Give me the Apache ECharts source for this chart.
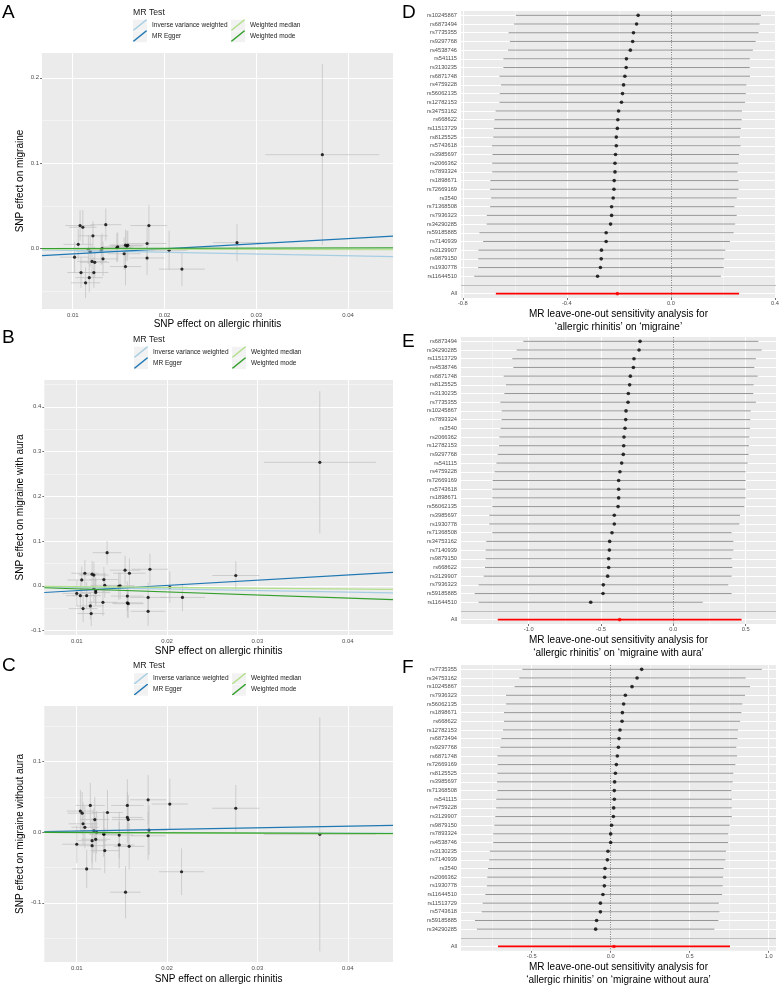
<!DOCTYPE html>
<html><head><meta charset="utf-8">
<script src="https://cdn.jsdelivr.net/npm/echarts@6/dist/echarts.min.js"></script>
<style>html,body{margin:0;padding:0;background:#fff}#c{width:784px;height:988px}</style>
</head><body><div id="c"></div>
<script>
// ---------- DATA ----------
const mrMethods = ['Inverse variance weighted', 'MR Egger', 'Weighted median', 'Weighted mode'];
const mrColors = ['#a6cee3', '#1f78b4', '#b2df8a', '#33a02c'];

// Panel A: allergic rhinitis -> migraine
const aExpBeta = [0.0372,0.0279,0.0219,0.0205,0.0183,0.0181,0.0181,0.01575,0.0159,0.0160,0.0156,0.01575,0.0149,0.0136,0.0133,0.0132,0.0122,0.0117,0.0119,0.0121,0.0124,0.0123,0.0118,0.0114,0.0109,0.0108,0.0111,0.0106,0.0102,0.0148,0.0131];
const aExpSE   = [0.0062,0.0026,0.0025,0.0020,0.0020,0.0021,0.0019,0.0018,0.0017,0.0018,0.0018,0.0017,0.0017,0.0017,0.0016,0.0016,0.0016,0.0016,0.0015,0.0016,0.0016,0.0016,0.0015,0.0016,0.0015,0.0016,0.0015,0.0016,0.0016,0.0016,0.0016];
const aOutBeta = [0.110,0.007,-0.024,-0.002,0.027,0.006,-0.011,0.004,0.003,0.004,-0.006,-0.021,0.002,0.028,-0.012,0.000,0.015,-0.001,-0.003,-0.015,-0.016,-0.028,-0.034,-0.040,-0.028,0.027,0.025,0.005,-0.010,0.001,-0.002];
const aOutSE   = [0.106,0.022,0.020,0.023,0.024,0.020,0.020,0.018,0.018,0.017,0.019,0.022,0.017,0.019,0.020,0.018,0.017,0.017,0.018,0.018,0.018,0.018,0.017,0.018,0.018,0.018,0.020,0.018,0.018,0.017,0.017];
const aSlope     = [-0.21, 0.596, -0.03, 0.02];
const aIntercept = [0, -0.0122, 0, 0];

// Panel B: allergic rhinitis -> migraine with aura
const bExpBeta = [0.0369,0.0276,0.0217,0.0203,0.0181,0.0179,0.0179,0.01535,0.01583,0.0156,0.0156,0.0157,0.01465,0.01336,0.0130,0.0131,0.0129,0.0119,0.0117,0.0119,0.0121,0.0121,0.0111,0.0115,0.0116,0.0107,0.01055,0.0109,0.0104,0.0100,0.0148];
const bExpSE   = [0.0062,0.0026,0.0025,0.0020,0.0020,0.0020,0.0019,0.0017,0.0018,0.0018,0.0017,0.0017,0.0017,0.0016,0.0016,0.0016,0.0016,0.0016,0.0015,0.0016,0.0016,0.0016,0.0016,0.0015,0.0015,0.0016,0.0016,0.0015,0.0016,0.0016,0.0016];
const bOutBeta = [0.276,0.023,-0.026,-0.003,0.037,-0.026,-0.057,0.035,0.028,-0.023,-0.038,-0.040,-0.001,0.074,0.014,0.001,-0.037,0.024,0.026,-0.006,-0.011,-0.015,-0.022,-0.045,-0.062,-0.051,0.013,0.028,-0.022,-0.017,0.000];
const bOutSE   = [0.159,0.032,0.031,0.035,0.035,0.033,0.033,0.032,0.033,0.033,0.033,0.032,0.030,0.026,0.028,0.028,0.030,0.030,0.030,0.030,0.030,0.030,0.030,0.030,0.028,0.030,0.030,0.030,0.030,0.030,0.030];
const bSlope     = [-0.35, 1.17, -0.18, -0.69];
const bIntercept = [0, -0.0225, 0, 0];

// Panel C: allergic rhinitis -> migraine without aura
const cExpBeta = [0.0369,0.0276,0.0216,0.0203,0.0179,0.0180,0.0179,0.0156,0.0156,0.0157,0.0158,0.0154,0.0147,0.0147,0.0134,0.0131,0.0130,0.0130,0.0115,0.0120,0.0119,0.0121,0.0117,0.0117,0.0111,0.0104,0.0106,0.0107,0.0109,0.0100,0.0122];
const cExpSE   = [0.0062,0.0026,0.0025,0.0020,0.0020,0.0021,0.0019,0.0018,0.0017,0.0018,0.0017,0.0017,0.0017,0.0016,0.0017,0.0016,0.0016,0.0016,0.0016,0.0016,0.0015,0.0016,0.0016,0.0015,0.0016,0.0015,0.0016,0.0016,0.0015,0.0016,0.0016];
const cOutBeta = [-0.003,0.034,-0.056,0.040,0.046,0.003,-0.005,0.038,0.021,0.018,-0.020,-0.085,-0.018,-0.004,0.028,-0.026,-0.002,-0.003,0.038,0.018,0.002,-0.010,-0.012,-0.019,-0.052,0.030,0.027,0.012,0.007,-0.017,0.000];
const cOutSE   = [0.166,0.033,0.033,0.036,0.035,0.035,0.034,0.037,0.036,0.035,0.033,0.037,0.033,0.033,0.032,0.032,0.032,0.032,0.032,0.032,0.032,0.032,0.032,0.032,0.027,0.030,0.030,0.030,0.030,0.027,0.030];
const cSlope     = [-0.03, 0.23, -0.05, -0.04];
const cIntercept = [0, -0.0005, 0, 0];

const scatterXTicks = [0.01, 0.02, 0.03, 0.04];

// Panel D: leave-one-out, migraine
const dSNP = ['rs10245867','rs6873494','rs7735355','rs9297768','rs4538746','rs541115','rs3130235','rs6871748','rs4759228','rs56062135','rs12782153','rs34753162','rs668622','rs11513729','rs8125525','rs5743618','rs3985697','rs2066362','rs7893324','rs1898671','rs72669169','rs3540','rs71368508','rs7936323','rs34290285','rs59185885','rs7140939','rs3129907','rs9879150','rs1930778','rs11644510'];
const dEst = [-0.126,-0.132,-0.144,-0.147,-0.156,-0.171,-0.172,-0.177,-0.182,-0.186,-0.190,-0.201,-0.204,-0.206,-0.210,-0.210,-0.213,-0.215,-0.215,-0.218,-0.219,-0.222,-0.228,-0.228,-0.232,-0.249,-0.249,-0.267,-0.268,-0.271,-0.282];
const dLo  = [-0.596,-0.603,-0.624,-0.619,-0.626,-0.644,-0.644,-0.659,-0.653,-0.658,-0.659,-0.674,-0.678,-0.681,-0.683,-0.688,-0.686,-0.687,-0.687,-0.694,-0.695,-0.691,-0.695,-0.708,-0.708,-0.736,-0.722,-0.740,-0.741,-0.741,-0.756];
const dHi  = [0.346,0.341,0.337,0.326,0.315,0.303,0.303,0.304,0.290,0.288,0.285,0.273,0.272,0.269,0.265,0.268,0.262,0.259,0.256,0.260,0.260,0.253,0.244,0.253,0.247,0.241,0.227,0.209,0.205,0.203,0.192];
const dAll = [-0.206, -0.673, 0.262];
const dTicks = [-0.8, -0.4, 0, 0.4];

// Panel E: leave-one-out, migraine with aura
const eSNP = ['rs6873494','rs34290285','rs11513729','rs4538746','rs6871748','rs8125525','rs3130235','rs7735355','rs10245867','rs7893324','rs3540','rs2066362','rs12782153','rs9297768','rs541115','rs4759228','rs72669169','rs5743618','rs1898671','rs56062135','rs3985697','rs1930778','rs71368508','rs34753162','rs7140939','rs9879150','rs668622','rs3129907','rs7936323','rs59185885','rs11644510'];
const eEst = [-0.230,-0.237,-0.272,-0.276,-0.297,-0.302,-0.311,-0.313,-0.327,-0.329,-0.334,-0.341,-0.343,-0.346,-0.357,-0.369,-0.378,-0.378,-0.378,-0.382,-0.408,-0.408,-0.424,-0.440,-0.442,-0.447,-0.447,-0.454,-0.484,-0.486,-0.571];
const eLo  = [-1.037,-1.083,-1.113,-1.106,-1.173,-1.157,-1.168,-1.196,-1.187,-1.187,-1.194,-1.203,-1.205,-1.214,-1.223,-1.235,-1.249,-1.251,-1.251,-1.251,-1.272,-1.272,-1.251,-1.293,-1.297,-1.297,-1.302,-1.311,-1.346,-1.373,-1.346];
const eHi  = [0.588,0.611,0.571,0.560,0.583,0.555,0.553,0.571,0.535,0.532,0.530,0.525,0.523,0.521,0.514,0.500,0.500,0.500,0.500,0.491,0.461,0.456,0.403,0.415,0.415,0.403,0.408,0.403,0.380,0.403,0.203];
const eAll = [-0.371, -1.214, 0.472];
const eTicks = [-1.0, -0.5, 0, 0.5];

// Panel F: leave-one-out, migraine without aura
const fSNP = ['rs7735355','rs34753162','rs10245867','rs7936323','rs56062135','rs1898671','rs668622','rs12782153','rs6873494','rs9297768','rs6871748','rs72669169','rs8125525','rs3985697','rs71368508','rs541115','rs4759228','rs3129907','rs9879150','rs7893324','rs4538746','rs3130235','rs7140939','rs3540','rs2066362','rs1930778','rs11644510','rs11513729','rs5743618','rs59185885','rs34290285'];
const fEst = [0.196,0.167,0.135,0.093,0.082,0.074,0.072,0.059,0.053,0.049,0.042,0.036,0.030,0.025,0.023,0.023,0.019,0.017,0.006,0.000,0.000,-0.017,-0.021,-0.036,-0.038,-0.040,-0.049,-0.065,-0.065,-0.089,-0.095];
const fLo  = [-0.559,-0.578,-0.608,-0.662,-0.662,-0.675,-0.675,-0.681,-0.692,-0.698,-0.717,-0.715,-0.717,-0.719,-0.717,-0.724,-0.724,-0.730,-0.736,-0.743,-0.743,-0.764,-0.768,-0.776,-0.781,-0.783,-0.793,-0.810,-0.816,-0.859,-0.846];
const fHi  = [0.956,0.854,0.882,0.850,0.833,0.827,0.819,0.806,0.802,0.795,0.800,0.789,0.776,0.772,0.764,0.766,0.766,0.766,0.753,0.743,0.743,0.730,0.726,0.715,0.711,0.709,0.705,0.684,0.688,0.681,0.656];
const fAll = [0.021, -0.713, 0.755];
const fTicks = [-0.5, 0, 0.5, 1.0];

// ---------- LAYOUT / BUILD ----------
const FONT = '"Liberation Sans", Arial, Helvetica, sans-serif';
const PANEL_BG = '#ebebeb';
const grids = [], xAxes = [], yAxes = [], series = [], titles = [], legends = [], graphics = [];

function midpoints(ticks, lo, hi) {
  const step = ticks[1] - ticks[0];
  const out = [];
  for (let v = ticks[0] - step / 2; v <= hi + 1e-9; v += step) {
    if (v >= lo - 1e-9) out.push(+v.toFixed(6));
  }
  return out;
}

function gridLines(idx, xMajor, xMinor, yMajor, yMinor, extra) {
  const data = [];
  xMinor.forEach(v => data.push({ xAxis: v, lineStyle: { color: '#fafafa', width: 0.5, type: 'solid' } }));
  yMinor.forEach(v => data.push({ yAxis: v, lineStyle: { color: '#fafafa', width: 0.5, type: 'solid' } }));
  xMajor.forEach(v => data.push({ xAxis: v, lineStyle: { color: '#ffffff', width: 1, type: 'solid' } }));
  yMajor.forEach(v => data.push({ yAxis: v, lineStyle: { color: '#ffffff', width: 1, type: 'solid' } }));
  (extra || []).forEach(d => data.push(d));
  series.push({
    type: 'line', name: 'grid' + idx, xAxisIndex: idx, yAxisIndex: idx, data: [], silent: true, z: 1,
    markLine: { silent: true, z: 1, zlevel: 0, symbol: ['none', 'none'], label: { show: false }, animation: false, emphasis: { disabled: true }, data }
  });
}

const scatterCfg = [
  { letter: 'A', letterTop: 3, mrTop: 8.5, legendTop: 19.5, legendLeft: [133, 231],
    grid: { left: 42, top: 53, width: 351, height: 256 }, xRange: [0.00665, 0.0449], yRange: [-0.0707, 0.229],
    yTicks: [0, 0.1, 0.2], xNameGap: 10.7, yNameGap: 17, yName: 'SNP effect on migraine',
    exp: aExpBeta, expSE: aExpSE, out: aOutBeta, outSE: aOutSE, slope: aSlope, intercept: aIntercept },
  { letter: 'B', letterTop: 328.5, mrTop: 335.5, legendTop: 346.5, legendLeft: [134, 232],
    grid: { left: 44.3, top: 380, width: 348.7, height: 255 }, xRange: [0.00641, 0.0450], yRange: [-0.110, 0.460],
    yTicks: [-0.1, 0, 0.1, 0.2, 0.3, 0.4], xNameGap: 11.7, yNameGap: 19, yName: 'SNP effect on migraine with aura',
    exp: bExpBeta, expSE: bExpSE, out: bOutBeta, outSE: bOutSE, slope: bSlope, intercept: bIntercept },
  { letter: 'C', letterTop: 656.5, mrTop: 661, legendTop: 673, legendLeft: [134, 232],
    grid: { left: 44.3, top: 706, width: 348.7, height: 256 }, xRange: [0.00641, 0.0450], yRange: [-0.184, 0.179],
    yTicks: [-0.1, 0, 0.1], xNameGap: 12.3, yNameGap: 19, yName: 'SNP effect on migraine without aura',
    exp: cExpBeta, expSE: cExpSE, out: cOutBeta, outSE: cOutSE, slope: cSlope, intercept: cIntercept }
];

const tickLabelStyle = { fontSize: 6, color: '#4d4d4d', fontFamily: FONT };
const tickStyle = { color: '#333333', width: 0.7 };

scatterCfg.forEach((p, i) => {
  grids.push(Object.assign({ show: true, backgroundColor: PANEL_BG, borderWidth: 0 }, p.grid));
  xAxes.push({
    type: 'value', gridIndex: i, min: p.xRange[0], max: p.xRange[1],
    axisLine: { show: false },
    axisTick: { show: true, length: 2, lineStyle: tickStyle, customValues: scatterXTicks },
    axisLabel: Object.assign({ customValues: scatterXTicks, margin: 3.5, formatter: v => (+v).toFixed(2) }, tickLabelStyle),
    splitLine: { show: false },
    name: 'SNP effect on allergic rhinitis', nameLocation: 'middle', nameGap: p.xNameGap,
    nameTextStyle: { fontSize: 10, color: '#000', fontFamily: FONT }
  });
  yAxes.push({
    type: 'value', gridIndex: i, min: p.yRange[0], max: p.yRange[1],
    axisLine: { show: false },
    axisTick: { show: true, length: 2, lineStyle: tickStyle, customValues: p.yTicks },
    axisLabel: Object.assign({ customValues: p.yTicks, margin: 3, formatter: v => (+v).toFixed(1) }, tickLabelStyle),
    splitLine: { show: false },
    name: p.yName, nameLocation: 'middle', nameGap: p.yNameGap,
    nameTextStyle: { fontSize: 10, color: '#000', fontFamily: FONT }
  });
  gridLines(i, scatterXTicks, midpoints(scatterXTicks, p.xRange[0], p.xRange[1]),
            p.yTicks, midpoints(p.yTicks, p.yRange[0], p.yRange[1]));

  const pts = p.exp.map((x, k) => [x, p.out[k], p.expSE[k], p.outSE[k]]);
  series.push({
    type: 'custom', name: p.letter + ' errorbars', xAxisIndex: i, yAxisIndex: i, z: 6, silent: true,
    encode: { x: 0, y: 1 }, data: pts, clip: true,
    renderItem: (params, api) => {
      const x = api.value(0), y = api.value(1), xs = api.value(2), ys = api.value(3);
      const h1 = api.coord([x - xs, y]), h2 = api.coord([x + xs, y]);
      const v1 = api.coord([x, y - ys]), v2 = api.coord([x, y + ys]);
      const st = { stroke: '#bebebe', lineWidth: 0.8, opacity: 0.85 };
      return { type: 'group', children: [
        { type: 'line', shape: { x1: h1[0], y1: h1[1], x2: h2[0], y2: h2[1] }, style: st },
        { type: 'line', shape: { x1: v1[0], y1: v1[1], x2: v2[0], y2: v2[1] }, style: st }
      ] };
    }
  });
  series.push({
    type: 'scatter', name: p.letter + ' points', xAxisIndex: i, yAxisIndex: i, z: 7, silent: true,
    symbol: 'circle', symbolSize: 3.2, itemStyle: { color: '#000' },
    data: pts.map(d => [d[0], d[1]])
  });
  mrMethods.forEach((m, k) => {
    const x0 = p.xRange[0], x1 = p.xRange[1];
    series.push({
      type: 'line', name: m, xAxisIndex: i, yAxisIndex: i, z: 8, silent: true,
      color: mrColors[k], symbol: 'none', showSymbol: false,
      lineStyle: { color: mrColors[k], width: 1.2 },
      data: [[x0, p.intercept[k] + p.slope[k] * x0], [x1, p.intercept[k] + p.slope[k] * x1]]
    });
  });

  // panel letter + legend
  titles.push({ text: p.letter, left: 2, top: p.letterTop, padding: 0,
    textStyle: { fontSize: 19, fontWeight: 'normal', color: '#000', fontFamily: FONT } });
  titles.push({ text: 'MR Test', left: 133, top: p.mrTop, padding: 0,
    textStyle: { fontSize: 8.7, fontWeight: 'normal', color: '#1a1a1a', fontFamily: FONT } });
  [[0, 1], [2, 3]].forEach((pair, col) => {
    legends.push({
      left: p.legendLeft[col], top: p.legendTop, orient: 'vertical', padding: 0, itemGap: 0,
      itemWidth: 14, itemHeight: 11.5, selectedMode: false, z: 10,
      icon: 'path://M0,11 L1.3,11 L14,0.7 L14,0 L12.7,0 L0,10.3 Z',
      textStyle: { fontSize: 6.5, color: '#1a1a1a', fontFamily: FONT },
      data: pair.map(k => ({ name: mrMethods[k], itemStyle: { color: mrColors[k] } }))
    });
    pair.forEach((k, row) => {
      graphics.push({ type: 'rect', z: 0, silent: true,
        shape: { x: p.legendLeft[col], y: p.legendTop + row * 11.5 + 0.25, width: 14, height: 11 },
        style: { fill: '#f2f2f2' } });
    });
  });
});

// ---------- forest (leave-one-out) panels ----------
const forestCfg = [
  { letter: 'D', letterTop: 3.5, grid: { left: 461, top: 11, width: 315, height: 287 }, xRange: [-0.807, 0.404],
    ticks: dTicks, snp: dSNP, est: dEst, lo: dLo, hi: dHi, all: dAll, nameGap: 6.3,
    name: 'MR leave-one-out sensitivity analysis for\n\u2018allergic rhinitis\u2019 on \u2018migraine\u2019' },
  { letter: 'E', letterTop: 332.5, grid: { left: 461, top: 337, width: 315, height: 287 }, xRange: [-1.468, 0.710],
    ticks: eTicks, snp: eSNP, est: eEst, lo: eLo, hi: eHi, all: eAll, nameGap: 7.6,
    name: 'MR leave-one-out sensitivity analysis for\n\u2018allergic rhinitis\u2019 on \u2018migraine with aura\u2019' },
  { letter: 'F', letterTop: 658.5, grid: { left: 461, top: 665, width: 315, height: 286 }, xRange: [-0.947, 1.046],
    ticks: fTicks, snp: fSNP, est: fEst, lo: fLo, hi: fHi, all: fAll, nameGap: 9,
    name: 'MR leave-one-out sensitivity analysis for\n\u2018allergic rhinitis\u2019 on \u2018migraine without aura\u2019' }
];

forestCfg.forEach((p, j) => {
  const i = 3 + j;
  const cats = p.snp.concat([' ', 'All']);
  const blankIdx = p.snp.length, allIdx = p.snp.length + 1;
  grids.push(Object.assign({ show: true, backgroundColor: PANEL_BG, borderWidth: 0 }, p.grid));
  xAxes.push({
    type: 'value', gridIndex: i, min: p.xRange[0], max: p.xRange[1],
    axisLine: { show: false },
    axisTick: { show: true, length: 2, lineStyle: tickStyle, customValues: p.ticks },
    axisLabel: Object.assign({ customValues: p.ticks, margin: 2.5, formatter: v => (+v).toFixed(1) }, tickLabelStyle, { fontSize: 5.7 }),
    splitLine: { show: false },
    name: p.name, nameLocation: 'middle', nameGap: p.nameGap,
    nameTextStyle: { fontSize: 10, lineHeight: 13.4, color: '#000', fontFamily: FONT }
  });
  yAxes.push({
    type: 'category', gridIndex: i, data: cats, inverse: true,
    axisLine: { show: false },
    axisTick: { show: true, length: 2.5, alignWithLabel: true, interval: 0, lineStyle: tickStyle },
    axisLabel: Object.assign({ interval: 0, margin: 4 }, tickLabelStyle, { fontSize: 5.7 }),
    splitLine: { show: false }
  });
  const rowLines = cats.map((c, k) => ({ yAxis: k, lineStyle: { color: '#ffffff', width: 1, type: 'solid' } }));
  const extra = [
    { yAxis: blankIdx, lineStyle: { color: '#bebebe', width: 1, type: 'solid' } },
    { xAxis: 0, lineStyle: { color: '#666', width: 0.8, type: [1.2, 1.2] } }
  ];
  gridLines(i, p.ticks, midpoints(p.ticks, p.xRange[0], p.xRange[1]), [], [], rowLines.concat(extra));

  const bars = p.snp.map((s, k) => [p.lo[k], p.hi[k], k]);
  series.push({
    type: 'custom', name: p.letter + ' ci', xAxisIndex: i, yAxisIndex: i, z: 6, silent: true,
    encode: { x: [0, 1], y: 2 }, data: bars,
    renderItem: (params, api) => {
      const a = api.coord([api.value(0), api.value(2)]), b = api.coord([api.value(1), api.value(2)]);
      return { type: 'line', shape: { x1: a[0], y1: a[1], x2: b[0], y2: b[1] }, style: { stroke: '#8a8a8a', lineWidth: 0.9 } };
    }
  });
  series.push({
    type: 'custom', name: p.letter + ' all ci', xAxisIndex: i, yAxisIndex: i, z: 6, silent: true,
    encode: { x: [0, 1], y: 2 }, data: [[p.all[1], p.all[2], allIdx]],
    renderItem: (params, api) => {
      const a = api.coord([api.value(0), api.value(2)]), b = api.coord([api.value(1), api.value(2)]);
      return { type: 'line', shape: { x1: a[0], y1: a[1], x2: b[0], y2: b[1] }, style: { stroke: '#ff0000', lineWidth: 1.8 } };
    }
  });
  series.push({
    type: 'scatter', name: p.letter + ' est', xAxisIndex: i, yAxisIndex: i, z: 7, silent: true,
    symbol: 'circle', symbolSize: 3.6, itemStyle: { color: '#000' },
    data: p.est.map((v, k) => [v, k])
  });
  series.push({
    type: 'scatter', name: p.letter + ' all est', xAxisIndex: i, yAxisIndex: i, z: 7, silent: true,
    symbol: 'circle', symbolSize: 3.6, itemStyle: { color: '#ff0000' },
    data: [[p.all[0], allIdx]]
  });
  titles.push({ text: p.letter, left: 402, top: p.letterTop, padding: 0,
    textStyle: { fontSize: 19, fontWeight: 'normal', color: '#000', fontFamily: FONT } });
});

const chart = echarts.init(document.getElementById('c'), null, { renderer: 'canvas' });
chart.setOption({
  animation: false,
  backgroundColor: '#ffffff',
  textStyle: { fontFamily: FONT },
  title: titles, legend: legends, grid: grids, xAxis: xAxes, yAxis: yAxes,
  series: series, graphic: graphics
});
</script>
</body></html>
